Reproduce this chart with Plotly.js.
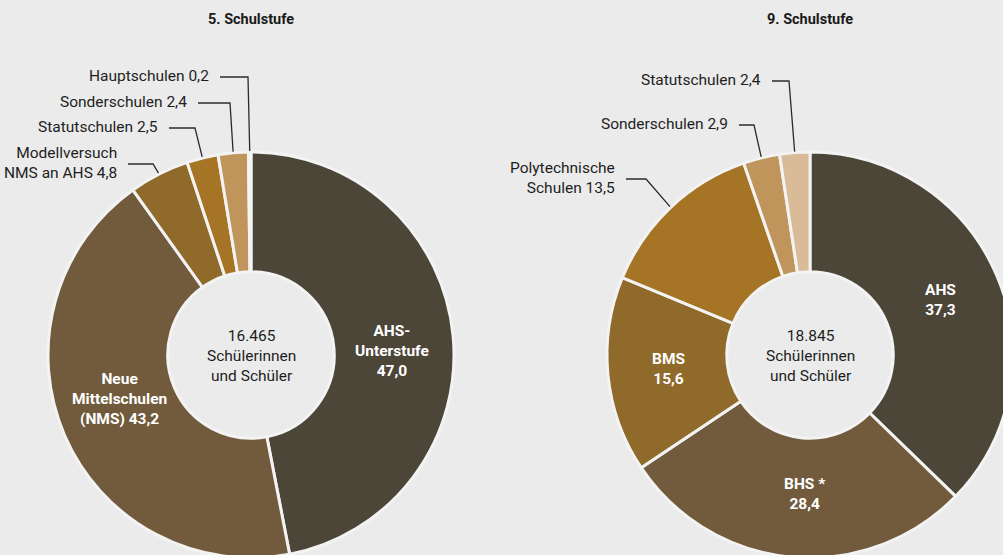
<!DOCTYPE html>
<html><head><meta charset="utf-8">
<script src="https://cdn.plot.ly/plotly-3.0.1.min.js"></script>
<style>html,body{margin:0;padding:0;overflow:hidden;background:#ebebeb}#chart{width:1030px;height:580px}</style>
</head><body><div id="chart"></div>
<script>
// ---- data ----
const titleL = '5. Schulstufe';
const titleR = '9. Schulstufe';
const catsL = ['AHS-Unterstufe', 'Neue Mittelschulen (NMS)', 'Modellversuch NMS an AHS', 'Statutschulen', 'Sonderschulen', 'Hauptschulen'];
const valsL = [47.0, 43.2, 4.8, 2.5, 2.4, 0.2];
const labelsL = ['AHS-<br>Unterstufe', 'Neue<br>Mittelschulen<br>(NMS)', 'Modellversuch<br>NMS an AHS', 'Statutschulen', 'Sonderschulen', 'Hauptschulen'];
const sepL = ['<br>', ' ', ' ', ' ', ' ', ' '];
const totalL = 16465;

const catsR = ['AHS', 'BHS *', 'BMS', 'Polytechnische Schulen', 'Sonderschulen', 'Statutschulen'];
const valsR = [37.3, 28.4, 15.6, 13.5, 2.9, 2.4];
const labelsR = ['AHS', 'BHS *', 'BMS', 'Polytechnische<br>Schulen', 'Sonderschulen', 'Statutschulen'];
const sepR = ['<br>', '<br>', '<br>', ' ', ' ', ' '];
const totalR = 18845;
const centerText = 'Schülerinnen<br>und Schüler';

// ---- style / layout ----
const W = 1030, H = 580;
const R = 203, CY = 355;
const colors = ['#4c4639', '#715b3c', '#8f6a2a', '#a57424', '#c0955c', '#d9bb97'];
const bg = '#ebebeb';
const FONT = 'Roboto, sans-serif';
const FS = 15.5;

const pies = [
  {title: titleL, vals: valsL, cats: catsL, labels: labelsL, sep: sepL, total: totalL, cx: 251,
   inside: {0: {r: 141, dA: 4}, 1: {r: 139, dA: 5}},
   outside: {2: {y: 164, x0: 128, kx: 153}, 3: {y: 128, x0: 169, kx: 195}, 4: {y: 103, x0: 198, kx: 230}, 5: {y: 77, x0: 220, kx: 248}}},
  {title: titleR, vals: valsR, cats: catsR, labels: labelsR, sep: sepR, total: totalR, cx: 810,
   inside: {0: {r: 142, dA: 0}, 1: {r: 139, dA: -3}, 2: {r: 142, dA: 0}},
   outside: {3: {y: 179, x0: 626, kx: 646}, 4: {y: 125, x0: 739, kx: 754}, 5: {y: 81, x0: 772, kx: 789}}}
];

const px = x => x / W;
const py = y => 1 - y / H;
const fmtVal = v => v.toFixed(1).replace('.', ',');
const fmtTotal = n => String(n).replace(/\B(?=(\d{3})+(?!\d))/g, '.');

const traces = [], annotations = [], shapes = [];
pies.forEach(p => {
  traces.push({
    type: 'pie', values: p.vals, labels: p.cats, sort: false, direction: 'clockwise', rotation: 0,
    hole: 0.41, textinfo: 'none', hoverinfo: 'none', showlegend: false,
    marker: {colors: colors, line: {color: '#f3f3f3', width: 3}},
    domain: {x: [px(p.cx - R), px(p.cx + R)], y: [py(CY + R), py(CY - R)]}
  });
  annotations.push({xref: 'paper', yref: 'paper', x: px(p.cx), y: py(19), text: '<b>' + p.title + '</b>',
    showarrow: false, xanchor: 'center', yanchor: 'middle', font: {family: FONT, size: 14.5, color: '#1a1a1a'}});
  annotations.push({xref: 'paper', yref: 'paper', x: px(p.cx), y: py(356), text: fmtTotal(p.total) + '<br>' + centerText,
    showarrow: false, xanchor: 'center', yanchor: 'middle', align: 'center', font: {family: FONT, size: FS, color: '#1e1e1e'}});
  const sum = p.vals.reduce((a, b) => a + b, 0);
  let cum = 0;
  p.vals.forEach((v, i) => {
    const mid = 360 * (cum + v / 2) / sum;
    cum += v;
    const txt = p.labels[i] + p.sep[i] + fmtVal(v);
    if (p.inside[i]) {
      const s = p.inside[i];
      const a = (mid + s.dA) * Math.PI / 180;
      const x = p.cx + s.r * Math.sin(a), y = CY - s.r * Math.cos(a);
      annotations.push({xref: 'paper', yref: 'paper', x: px(x), y: py(y), text: '<b>' + txt + '</b>',
        showarrow: false, xanchor: 'center', yanchor: 'middle', align: 'center',
        font: {family: FONT, size: FS, color: '#ffffff'}});
    } else if (p.outside[i]) {
      const s = p.outside[i];
      const a = mid * Math.PI / 180;
      const ex = p.cx + (R + 1) * Math.sin(a), ey = CY - (R + 1) * Math.cos(a);
      shapes.push({type: 'path', xref: 'paper', yref: 'paper',
        path: `M ${px(s.x0)} ${py(s.y)} L ${px(s.kx)} ${py(s.y)} L ${px(ex)} ${py(ey)}`,
        line: {color: '#2b2b2b', width: 1.3}});
      annotations.push({xref: 'paper', yref: 'paper', x: px(s.x0 - 9), y: py(s.y - 1), text: txt,
        showarrow: false, xanchor: 'right', yanchor: 'middle', align: 'right',
        font: {family: FONT, size: FS, color: '#1e1e1e'}});
    }
  });
});

Plotly.newPlot('chart', traces, {
  width: W, height: H, margin: {l: 0, r: 0, t: 0, b: 0},
  paper_bgcolor: bg, plot_bgcolor: bg, showlegend: false,
  font: {family: FONT}, annotations: annotations, shapes: shapes
}, {staticPlot: true});
</script>
</body></html>
